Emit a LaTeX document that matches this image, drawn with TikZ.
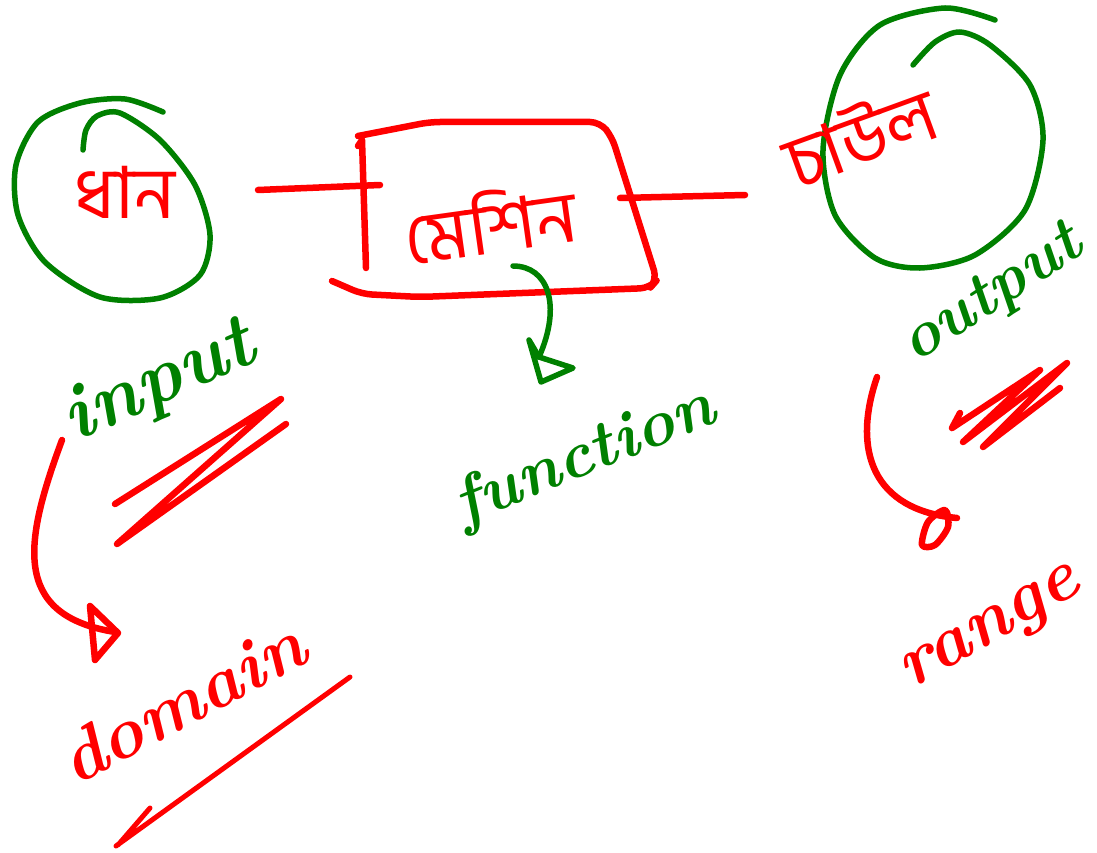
\documentclass[tikz,border=0pt]{standalone}
\usepackage{fontspec}
\newfontfamily\bnfont[Script=Bengali]{Hind Siliguri}
\definecolor{penred}{RGB}{255,0,0}
\definecolor{pengreen}{RGB}{0,128,0}
\tikzset{
  redink/.style={draw=penred, line width=6.5pt, line cap=round, line join=round},
  greenink/.style={draw=pengreen, line width=5.5pt, line cap=round, line join=round},
  bntext/.style={text=penred, font=\bnfont\fontsize{72}{80}\selectfont, inner sep=0pt},
  entext/.style={font=\bfseries\itshape\fontsize{66}{72}\selectfont, inner sep=0pt},
  gtext/.style={entext, text=pengreen},
  rtext/.style={entext, text=penred},
}
\begin{document}
\begin{tikzpicture}[x=1pt,y=-1pt]
\useasboundingbox (0,0) rectangle (1097,853);
\fill[white] (0,0) rectangle (1097,853);

% left circle (input)
\draw[greenink] plot[smooth] coordinates {(163,112) (125,99) (80,103) (38,122) (16,165) (18,215) (45,262) (100,297) (160,298) (200,275) (210,235) (195,185) (160,140) (120,113) (97,116) (86,130) (83,150)};
\node[bntext] (inA) at (125,192) {ধান};

% right circle (output)
\draw[greenink] plot[smooth] coordinates {(995,20) (945,8) (880,25) (840,75) (823,150) (835,215) (875,258) (920,268) (975,255) (1025,210) (1043,140) (1030,85) (990,45) (960,32) (935,42) (913,65)};
\node[bntext, rotate=20] (outA) at (860,135) {চাউল};

% machine box
\draw[redink, rounded corners=10pt] (358,136) -- (430,122) -- (600,122) -- (612,137) -- (657,280) -- (650,288) -- (420,297) -- (362,294) -- (332,281);
\draw[redink] (358,146) -- (362,140) -- (366,268);
\node[bntext, rotate=8] (box) at (490,222) {মেশিন};

% connectors to and from the box
\coordinate (inEnd) at (258,190);
\coordinate (boxL) at (380,185);
\coordinate (boxR) at (620,198);
\coordinate (outEnd) at (745,195);
\draw[redink] (inEnd) -- (boxL);
\draw[redink] (boxR) -- (outEnd);

% function arrow
\coordinate (fs) at (513,266);
\coordinate (fe) at (539,357);
\draw[greenink] (fs) .. controls (548,266) and (562,305) .. (fe);
\draw[greenink] (fe) -- (529,340) -- (541,382) -- (573,368) -- cycle;
\node[gtext, rotate=22] (fn) at (585,458) {function};

% input label and scribble
\node[gtext, rotate=24, font=\bfseries\itshape\fontsize{78}{84}\selectfont] (inp) at (160,384) {input};
\draw[redink] (115,504) -- (281,399) -- (117,544) -- (286,424);

% domain arrow
\coordinate (ds) at (62,440);
\coordinate (de) at (115,632);
\draw[redink] (ds) .. controls (25,540) and (10,615) .. (de);
\draw[redink] (90,606) -- (118,633) -- (95,660) -- cycle;
\node[rtext, rotate=28, font=\bfseries\itshape\fontsize{72}{80}\selectfont] (dom) at (182,702) {domain};
\draw[redink, line width=5pt] (118,845) -- (150,808) (116,846) -- (350,677);

% output label and scribble
\node[gtext, rotate=33, font=\bfseries\itshape\fontsize{64}{70}\selectfont] (outp) at (993,296) {output};
\draw[redink] (960,413) -- (952,428) -- (1040,370) -- (963,442) -- (1067,363) -- (983,447) -- (1060,388);

% range arrow
\coordinate (rs) at (877,377);
\coordinate (re) at (957,518);
\draw[redink] (rs) .. controls (852,450) and (872,510) .. (re);
\draw[redink] plot[smooth cycle] coordinates {(945,510) (928,522) (922,545) (935,545) (948,527)};
\node[rtext, rotate=30, font=\bfseries\itshape\fontsize{72}{80}\selectfont] (rng) at (993,632) {range};
\end{tikzpicture}
\end{document}
